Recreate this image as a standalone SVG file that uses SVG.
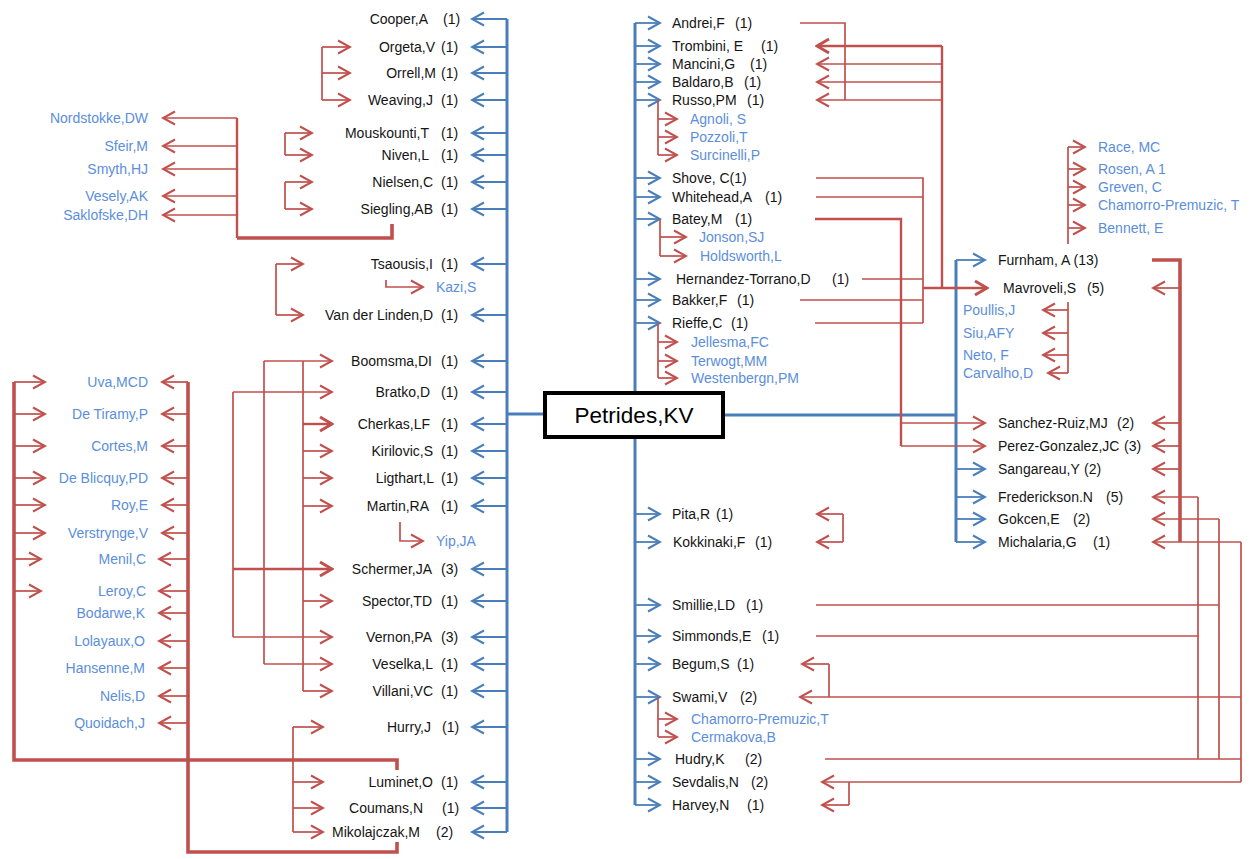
<svg xmlns="http://www.w3.org/2000/svg" width="1252" height="859" viewBox="0 0 1252 859">
<style>
.b{stroke:#4a7ebb;stroke-width:1.8;fill:none}
.bt{stroke:#4a7ebb;stroke-width:3;fill:none}
.r{stroke:#c0504d;stroke-width:1.7;fill:none}
.rm{stroke:#c0504d;stroke-width:2.4;fill:none}
.rt{stroke:#c0504d;stroke-width:3.6;fill:none}
text{font-family:"Liberation Sans",Arial,sans-serif;font-size:14px}
.n{fill:#151515}
.e{text-anchor:end}
.c{fill:#5b8edb}
</style>
<defs>
<marker id="ab" viewBox="-15 -8 17 16" refX="0" refY="0" markerWidth="17" markerHeight="16" markerUnits="userSpaceOnUse" orient="auto"><path d="M-12,-6.5 L0,0 L-12,6.5" fill="none" stroke="#4a7ebb" stroke-width="2"/></marker>
<marker id="ar" viewBox="-15 -8 17 16" refX="0" refY="0" markerWidth="17" markerHeight="16" markerUnits="userSpaceOnUse" orient="auto"><path d="M-12,-6.5 L0,0 L-12,6.5" fill="none" stroke="#c0504d" stroke-width="2"/></marker>
<marker id="art" viewBox="-16 -9 18 18" refX="0" refY="0" markerWidth="18" markerHeight="18" markerUnits="userSpaceOnUse" orient="auto"><path d="M-12,-7 L0,0 L-12,7" fill="none" stroke="#c0504d" stroke-width="3"/></marker>
</defs>
<rect width="1252" height="859" fill="#fff"/>
<g id="connectors">
<path class="bt" d="M507,19 V832 M507,414 H545"/>
<path class="bt" d="M635,23 V805 M723,415 H956 V542 M956,260 V415"/>
<g marker-end="url(#ab)" class="b">
<line x1="507" y1="19" x2="472" y2="19"/><line x1="507" y1="47" x2="472" y2="47"/><line x1="507" y1="73" x2="472" y2="73"/><line x1="507" y1="100" x2="472" y2="100"/><line x1="507" y1="133" x2="472" y2="133"/><line x1="507" y1="155" x2="472" y2="155"/><line x1="507" y1="182" x2="472" y2="182"/><line x1="507" y1="209" x2="472" y2="209"/><line x1="507" y1="264" x2="472" y2="264"/><line x1="507" y1="315" x2="472" y2="315"/><line x1="507" y1="361" x2="472" y2="361"/><line x1="507" y1="392" x2="472" y2="392"/><line x1="507" y1="424" x2="472" y2="424"/><line x1="507" y1="451" x2="472" y2="451"/><line x1="507" y1="478" x2="472" y2="478"/><line x1="507" y1="506" x2="472" y2="506"/><line x1="507" y1="569" x2="472" y2="569"/><line x1="507" y1="601" x2="472" y2="601"/><line x1="507" y1="637" x2="472" y2="637"/><line x1="507" y1="664" x2="472" y2="664"/><line x1="507" y1="691" x2="472" y2="691"/><line x1="507" y1="727" x2="472" y2="727"/><line x1="507" y1="782" x2="472" y2="782"/><line x1="507" y1="808" x2="472" y2="808"/><line x1="507" y1="832" x2="472" y2="832"/>
<line x1="635" y1="23" x2="660" y2="23"/><line x1="635" y1="46" x2="660" y2="46"/><line x1="635" y1="64" x2="660" y2="64"/><line x1="635" y1="82" x2="660" y2="82"/><line x1="635" y1="100" x2="660" y2="100"/><line x1="635" y1="178" x2="660" y2="178"/><line x1="635" y1="197" x2="660" y2="197"/><line x1="635" y1="219" x2="660" y2="219"/><line x1="635" y1="279" x2="660" y2="279"/><line x1="635" y1="300" x2="660" y2="300"/><line x1="635" y1="323" x2="660" y2="323"/><line x1="635" y1="514" x2="660" y2="514"/><line x1="635" y1="542" x2="660" y2="542"/><line x1="635" y1="605" x2="660" y2="605"/><line x1="635" y1="636" x2="660" y2="636"/><line x1="635" y1="664" x2="660" y2="664"/><line x1="635" y1="697" x2="660" y2="697"/><line x1="635" y1="759" x2="660" y2="759"/><line x1="635" y1="782" x2="660" y2="782"/><line x1="635" y1="805" x2="660" y2="805"/>
<line x1="956" y1="260" x2="985" y2="260"/><line x1="956" y1="469" x2="985" y2="469"/><line x1="956" y1="497" x2="985" y2="497"/><line x1="956" y1="519" x2="985" y2="519"/><line x1="956" y1="542" x2="985" y2="542"/>
</g>
<path class="r" d="M322,47 V100 M285,133 V155 M285,182 V209 M276,264 V315 M233,392 V637 M264,361 V664 M303,361 V691 M293,727 V832"/>
<path class="rt" d="M392,224 V238 H237"/>
<path class="rm" d="M237,238 V118"/>
<path class="rt" d="M397,770 V760 H14 V382"/>
<path class="rt" d="M397,842 V852 H188 V382"/>
<g class="r" marker-end="url(#ar)">
<line x1="322" y1="47" x2="350" y2="47"/><line x1="322" y1="73" x2="350" y2="73"/><line x1="322" y1="100" x2="350" y2="100"/>
<line x1="285" y1="133" x2="312" y2="133"/><line x1="285" y1="155" x2="312" y2="155"/><line x1="285" y1="182" x2="312" y2="182"/><line x1="285" y1="209" x2="312" y2="209"/>
<line x1="237" y1="118" x2="163" y2="118"/><line x1="237" y1="146" x2="163" y2="146"/><line x1="237" y1="169" x2="163" y2="169"/><line x1="237" y1="196" x2="163" y2="196"/><line x1="237" y1="215" x2="163" y2="215"/>
<line x1="276" y1="264" x2="303" y2="264"/><line x1="276" y1="315" x2="303" y2="315"/>
<path d="M386,280 V287 H423"/>
<line x1="264" y1="361" x2="332" y2="361"/><line x1="233" y1="392" x2="332" y2="392"/><line x1="303" y1="451" x2="332" y2="451"/><line x1="303" y1="478" x2="332" y2="478"/><line x1="303" y1="506" x2="332" y2="506"/><line x1="303" y1="601" x2="332" y2="601"/><line x1="233" y1="637" x2="332" y2="637"/><line x1="264" y1="664" x2="332" y2="664"/><line x1="303" y1="691" x2="332" y2="691"/>
<path d="M400,522 V541 H423"/>
<line x1="14" y1="382" x2="45" y2="382"/><line x1="14" y1="414" x2="45" y2="414"/><line x1="14" y1="446" x2="45" y2="446"/><line x1="14" y1="478" x2="45" y2="478"/><line x1="14" y1="505" x2="45" y2="505"/><line x1="14" y1="533" x2="45" y2="533"/><line x1="14" y1="559" x2="41" y2="559"/><line x1="14" y1="591" x2="41" y2="591"/>
<line x1="188" y1="382" x2="162" y2="382"/><line x1="188" y1="414" x2="162" y2="414"/><line x1="188" y1="446" x2="162" y2="446"/><line x1="188" y1="478" x2="162" y2="478"/><line x1="188" y1="505" x2="162" y2="505"/><line x1="188" y1="533" x2="162" y2="533"/><line x1="188" y1="559" x2="159" y2="559"/><line x1="188" y1="591" x2="159" y2="591"/><line x1="188" y1="613" x2="159" y2="613"/><line x1="188" y1="641" x2="159" y2="641"/><line x1="188" y1="668" x2="159" y2="668"/><line x1="188" y1="696" x2="159" y2="696"/><line x1="188" y1="723" x2="159" y2="723"/>
<line x1="293" y1="727" x2="323" y2="727"/><line x1="293" y1="782" x2="323" y2="782"/><line x1="293" y1="808" x2="323" y2="808"/><line x1="293" y1="832" x2="323" y2="832"/>
</g>
<g class="rm" marker-end="url(#art)">
<line x1="303" y1="424" x2="332" y2="424"/><line x1="233" y1="569" x2="332" y2="569"/>
</g>
<path class="r" d="M658,100 V155 M660,219 V256 M658,323 V378 M658,697 V737 M800,23 H845 V100 M816,178 H923 V323 M816,197 H923 M862,279 H923 M800,300 H923 M815,323 H923 M1198,497 V759 M1219,519 V759 M1241,542 V782 M816,605 H1219 M816,636 H1198 M829,664 V697 M825,759 H1241 M849,782 V805 M843,514 V542 M1068,147 V244 M1068,302 V373"/>
<path class="rm" d="M942,46 V288 M815,219 H901 V446"/>
<path class="rt" d="M1152,260 H1180 V542"/>
<g class="r" marker-end="url(#ar)">
<line x1="658" y1="119" x2="677" y2="119"/><line x1="658" y1="137" x2="677" y2="137"/><line x1="658" y1="155" x2="677" y2="155"/>
<line x1="660" y1="237" x2="686" y2="237"/><line x1="660" y1="256" x2="686" y2="256"/>
<line x1="658" y1="342" x2="677" y2="342"/><line x1="658" y1="361" x2="677" y2="361"/><line x1="658" y1="378" x2="677" y2="378"/>
<line x1="658" y1="719" x2="677" y2="719"/><line x1="658" y1="737" x2="677" y2="737"/>
<line x1="942" y1="64" x2="817" y2="64"/><line x1="942" y1="82" x2="817" y2="82"/><line x1="942" y1="100" x2="817" y2="100"/>
<line x1="901" y1="423" x2="985" y2="423"/><line x1="901" y1="446" x2="985" y2="446"/>
<line x1="1180" y1="288" x2="1153" y2="288"/><line x1="1180" y1="423" x2="1153" y2="423"/><line x1="1180" y1="446" x2="1153" y2="446"/><line x1="1180" y1="469" x2="1153" y2="469"/>
<line x1="1198" y1="497" x2="1153" y2="497"/><line x1="1219" y1="519" x2="1153" y2="519"/><line x1="1241" y1="542" x2="1153" y2="542"/>
<line x1="1241" y1="697" x2="800" y2="697"/><line x1="829" y1="664" x2="802" y2="664"/>
<line x1="1241" y1="782" x2="822" y2="782"/><line x1="849" y1="805" x2="822" y2="805"/>
<line x1="843" y1="514" x2="817" y2="514"/><line x1="843" y1="542" x2="817" y2="542"/>
<line x1="1068" y1="147" x2="1085" y2="147"/><line x1="1068" y1="169" x2="1085" y2="169"/><line x1="1068" y1="187" x2="1085" y2="187"/><line x1="1068" y1="205" x2="1085" y2="205"/><line x1="1068" y1="228" x2="1085" y2="228"/>
<line x1="1068" y1="310" x2="1043" y2="310"/><line x1="1068" y1="333" x2="1043" y2="333"/><line x1="1068" y1="355" x2="1043" y2="355"/><line x1="1068" y1="373" x2="1048" y2="373"/>
</g>
<g class="rm" marker-end="url(#art)">
<line x1="942" y1="46" x2="817" y2="46"/><line x1="923" y1="288" x2="987" y2="288"/>
</g>
</g>
<g id="center">
<rect x="545" y="393" width="178" height="44" fill="#fff" stroke="#000" stroke-width="4"/>
<text x="634" y="423" text-anchor="middle" style="font-size:22.5px" fill="#000">Petrides,KV</text>
</g>
<g id="left-nodes" class="n">
<g id="n-cooper"><text class="e" x="428" y="24">Cooper,A</text><text x="443" y="24">(1)</text></g>
<g id="n-orgeta"><text class="e" x="435" y="52">Orgeta,V</text><text x="441" y="52">(1)</text></g>
<g id="n-orrell"><text class="e" x="436" y="78">Orrell,M</text><text x="441" y="78">(1)</text></g>
<g id="n-weaving"><text class="e" x="433" y="105">Weaving,J</text><text x="441" y="105">(1)</text></g>
<g id="n-mouskounti"><text class="e" x="429" y="138">Mouskounti,T</text><text x="441" y="138">(1)</text></g>
<g id="n-niven"><text class="e" x="429" y="160">Niven,L</text><text x="441" y="160">(1)</text></g>
<g id="n-nielsen"><text class="e" x="433" y="187">Nielsen,C</text><text x="441" y="187">(1)</text></g>
<g id="n-siegling"><text class="e" x="433" y="214">Siegling,AB</text><text x="441" y="214">(1)</text></g>
<g id="n-tsaousis"><text class="e" x="433" y="269">Tsaousis,I</text><text x="441" y="269">(1)</text></g>
<g id="n-vanderlinden"><text class="e" x="433" y="320">Van der Linden,D</text><text x="441" y="320">(1)</text></g>
<g id="n-boomsma"><text class="e" x="432" y="366">Boomsma,DI</text><text x="441" y="366">(1)</text></g>
<g id="n-bratko"><text class="e" x="430" y="397">Bratko,D</text><text x="441" y="397">(1)</text></g>
<g id="n-cherkas"><text class="e" x="430" y="429">Cherkas,LF</text><text x="441" y="429">(1)</text></g>
<g id="n-kirilovic"><text class="e" x="433" y="456">Kirilovic,S</text><text x="441" y="456">(1)</text></g>
<g id="n-ligthart"><text class="e" x="434" y="483">Ligthart,L</text><text x="441" y="483">(1)</text></g>
<g id="n-martin"><text class="e" x="429" y="511">Martin,RA</text><text x="441" y="511">(1)</text></g>
<g id="n-schermer"><text class="e" x="432" y="574">Schermer,JA</text><text x="441" y="574">(3)</text></g>
<g id="n-spector"><text class="e" x="432" y="606">Spector,TD</text><text x="441" y="606">(1)</text></g>
<g id="n-vernon"><text class="e" x="432" y="642">Vernon,PA</text><text x="441" y="642">(3)</text></g>
<g id="n-veselka"><text class="e" x="433" y="669">Veselka,L</text><text x="441" y="669">(1)</text></g>
<g id="n-villani"><text class="e" x="433" y="696">Villani,VC</text><text x="441" y="696">(1)</text></g>
<g id="n-hurry"><text class="e" x="431" y="732">Hurry,J</text><text x="442" y="732">(1)</text></g>
<g id="n-luminet"><text class="e" x="433" y="787">Luminet,O</text><text x="441" y="787">(1)</text></g>
<g id="n-coumans"><text class="e" x="423" y="813">Coumans,N</text><text x="442" y="813">(1)</text></g>
<g id="n-mikolajczak"><text class="e" x="420" y="837">Mikolajczak,M</text><text x="436" y="837">(2)</text></g>
</g>
<g id="left-coauthors" class="c">
<text class="e" x="148" y="123">Nordstokke,DW</text>
<text class="e" x="148" y="151">Sfeir,M</text>
<text class="e" x="148" y="174">Smyth,HJ</text>
<text class="e" x="148" y="201">Vesely,AK</text>
<text class="e" x="148" y="220">Saklofske,DH</text>
<text x="436" y="292">Kazi,S</text>
<text x="436" y="546">Yip,JA</text>
<text class="e" x="148" y="387">Uva,MCD</text>
<text class="e" x="148" y="419">De Tiramy,P</text>
<text class="e" x="148" y="451">Cortes,M</text>
<text class="e" x="148" y="483">De Blicquy,PD</text>
<text class="e" x="148" y="510">Roy,E</text>
<text class="e" x="148" y="538">Verstrynge,V</text>
<text class="e" x="146" y="564">Menil,C</text>
<text class="e" x="146" y="596">Leroy,C</text>
<text class="e" x="145" y="618">Bodarwe,K</text>
<text class="e" x="145" y="646">Lolayaux,O</text>
<text class="e" x="145" y="673">Hansenne,M</text>
<text class="e" x="145" y="701">Nelis,D</text>
<text class="e" x="145" y="728">Quoidach,J</text>
</g>
<g id="right-nodes" class="n">
<g id="n-andrei"><text x="672" y="28">Andrei,F</text><text x="735" y="28">(1)</text></g>
<g id="n-trombini"><text x="672" y="51">Trombini, E</text><text x="761" y="51">(1)</text></g>
<g id="n-mancini"><text x="672" y="69">Mancini,G</text><text x="750" y="69">(1)</text></g>
<g id="n-baldaro"><text x="672" y="87">Baldaro,B</text><text x="744" y="87">(1)</text></g>
<g id="n-russo"><text x="672" y="105">Russo,PM</text><text x="747" y="105">(1)</text></g>
<g id="n-shove"><text x="672" y="183">Shove, C(1)</text></g>
<g id="n-whitehead"><text x="672" y="202">Whitehead,A</text><text x="765" y="202">(1)</text></g>
<g id="n-batey"><text x="672" y="224">Batey,M</text><text x="735" y="224">(1)</text></g>
<g id="n-hernandez"><text x="676" y="284">Hernandez-Torrano,D</text><text x="832" y="284">(1)</text></g>
<g id="n-bakker"><text x="672" y="305">Bakker,F</text><text x="737" y="305">(1)</text></g>
<g id="n-rieffe"><text x="672" y="328">Rieffe,C</text><text x="731" y="328">(1)</text></g>
<g id="n-pita"><text x="672" y="519">Pita,R</text><text x="716" y="519">(1)</text></g>
<g id="n-kokkinaki"><text x="673" y="547">Kokkinaki,F</text><text x="755" y="547">(1)</text></g>
<g id="n-smillie"><text x="672" y="610">Smillie,LD</text><text x="746" y="610">(1)</text></g>
<g id="n-simmonds"><text x="672" y="641">Simmonds,E</text><text x="762" y="641">(1)</text></g>
<g id="n-begum"><text x="672" y="669">Begum,S</text><text x="737" y="669">(1)</text></g>
<g id="n-swami"><text x="672" y="702">Swami,V</text><text x="740" y="702">(2)</text></g>
<g id="n-hudry"><text x="675" y="764">Hudry,K</text><text x="745" y="764">(2)</text></g>
<g id="n-sevdalis"><text x="672" y="787">Sevdalis,N</text><text x="751" y="787">(2)</text></g>
<g id="n-harvey"><text x="672" y="810">Harvey,N</text><text x="747" y="810">(1)</text></g>
<g id="n-furnham"><text x="998" y="265">Furnham, A (13)</text></g>
<g id="n-mavroveli"><text x="1003" y="293">Mavroveli,S</text><text x="1087" y="293">(5)</text></g>
<g id="n-sanchez"><text x="998" y="428">Sanchez-Ruiz,MJ</text><text x="1117" y="428">(2)</text></g>
<g id="n-perez"><text x="998" y="451">Perez-Gonzalez,JC</text><text x="1124" y="451">(3)</text></g>
<g id="n-sangareau"><text x="998" y="474">Sangareau,Y</text><text x="1084" y="474">(2)</text></g>
<g id="n-frederickson"><text x="998" y="502">Frederickson.N</text><text x="1106" y="502">(5)</text></g>
<g id="n-gokcen"><text x="998" y="524">Gokcen,E</text><text x="1073" y="524">(2)</text></g>
<g id="n-michalaria"><text x="998" y="547">Michalaria,G</text><text x="1093" y="547">(1)</text></g>
</g>
<g id="right-coauthors" class="c">
<text x="690" y="124">Agnoli, S</text>
<text x="690" y="142">Pozzoli,T</text>
<text x="690" y="160">Surcinelli,P</text>
<text x="699" y="242">Jonson,SJ</text>
<text x="700" y="261">Holdsworth,L</text>
<text x="691" y="347">Jellesma,FC</text>
<text x="691" y="366">Terwogt,MM</text>
<text x="691" y="383">Westenbergn,PM</text>
<text x="691" y="724">Chamorro-Premuzic,T</text>
<text x="691" y="742">Cermakova,B</text>
<text x="1098" y="152">Race, MC</text>
<text x="1098" y="174">Rosen, A 1</text>
<text x="1098" y="192">Greven, C</text>
<text x="1098" y="210">Chamorro-Premuzic, T</text>
<text x="1098" y="233">Bennett, E</text>
<text x="963" y="315">Poullis,J</text>
<text x="963" y="338">Siu,AFY</text>
<text x="963" y="360">Neto, F</text>
<text x="963" y="378">Carvalho,D</text>
</g>
</svg>
